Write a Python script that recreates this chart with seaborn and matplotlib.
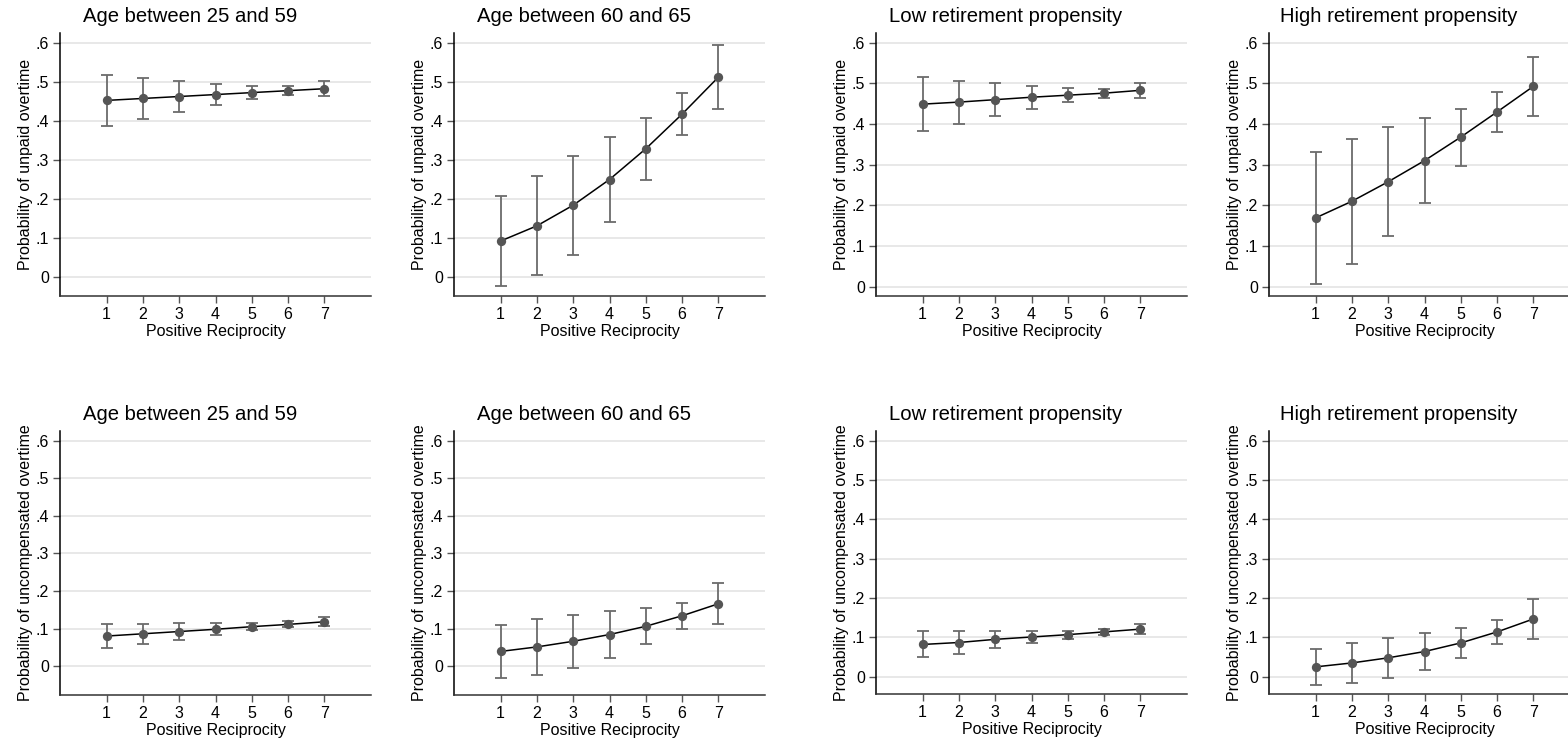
import numpy as np
import pandas as pd
import matplotlib
matplotlib.use("Agg")
import matplotlib.pyplot as plt
import seaborn as sns

# ---------------- data ----------------
reciprocity = [1, 2, 3, 4, 5, 6, 7]
titles = ["Age between 25 and 59", "Age between 60 and 65",
          "Low retirement propensity", "High retirement propensity"]
ylabel_top = "Probability of unpaid overtime"
ylabel_bottom = "Probability of uncompensated overtime"
xlabel = "Positive Reciprocity"
ytick_vals = [0, 0.1, 0.2, 0.3, 0.4, 0.5, 0.6]
ytick_labels = ["0", ".1", ".2", ".3", ".4", ".5", ".6"]

# unpaid overtime (top row)
unpaid_age_young = [0.452, 0.457, 0.462, 0.467, 0.472, 0.477, 0.482]
unpaid_age_young_ci = [0.066, 0.053, 0.040, 0.028, 0.017, 0.011, 0.019]
unpaid_age_old = [0.091, 0.130, 0.183, 0.249, 0.328, 0.417, 0.512]
unpaid_age_old_ci = [0.115, 0.127, 0.127, 0.110, 0.079, 0.055, 0.082]
unpaid_low_ret = [0.449, 0.454, 0.460, 0.466, 0.471, 0.476, 0.483]
unpaid_low_ret_ci = [0.066, 0.053, 0.040, 0.028, 0.017, 0.011, 0.019]
unpaid_high_ret = [0.169, 0.210, 0.258, 0.310, 0.368, 0.430, 0.493]
unpaid_high_ret_ci = [0.163, 0.154, 0.134, 0.105, 0.070, 0.050, 0.072]

# uncompensated overtime (bottom row)
uncomp_age_young = [0.080, 0.086, 0.092, 0.098, 0.105, 0.111, 0.118]
uncomp_age_young_ci = [0.032, 0.027, 0.022, 0.016, 0.010, 0.008, 0.012]
uncomp_age_old = [0.039, 0.051, 0.066, 0.084, 0.106, 0.134, 0.166]
uncomp_age_old_ci = [0.071, 0.074, 0.071, 0.062, 0.048, 0.035, 0.054]
uncomp_low_ret = [0.082, 0.087, 0.095, 0.101, 0.107, 0.114, 0.121]
uncomp_low_ret_ci = [0.033, 0.028, 0.022, 0.016, 0.010, 0.008, 0.012]
uncomp_high_ret = [0.025, 0.035, 0.048, 0.064, 0.086, 0.114, 0.147]
uncomp_high_ret_ci = [0.045, 0.050, 0.051, 0.048, 0.038, 0.030, 0.050]

# ---------------- style ----------------
sns.set_theme(style="white")
plt.rcParams['font.family'] = ['Liberation Sans', 'DejaVu Sans']

W, H = 1568, 743
fig = plt.figure(figsize=(W / 100, H / 100), dpi=100)

panels = [
    # (values, ci, title, ylabel, left_px, top_px, bottom_px, ylim)
    (unpaid_age_young, unpaid_age_young_ci, titles[0], ylabel_top, 60, 33, 296, (-0.05, 0.625)),
    (unpaid_age_old, unpaid_age_old_ci, titles[1], ylabel_top, 454, 33, 296, (-0.05, 0.625)),
    (unpaid_low_ret, unpaid_low_ret_ci, titles[2], ylabel_top, 876, 33, 296, (-0.023, 0.624)),
    (unpaid_high_ret, unpaid_high_ret_ci, titles[3], ylabel_top, 1269, 33, 296, (-0.023, 0.624)),
    (uncomp_age_young, uncomp_age_young_ci, titles[0], ylabel_bottom, 60, 431, 695, (-0.077, 0.626)),
    (uncomp_age_old, uncomp_age_old_ci, titles[1], ylabel_bottom, 454, 431, 695, (-0.077, 0.626)),
    (uncomp_low_ret, uncomp_low_ret_ci, titles[2], ylabel_bottom, 876, 431, 694, (-0.044, 0.625)),
    (uncomp_high_ret, uncomp_high_ret_ci, titles[3], ylabel_bottom, 1269, 431, 694, (-0.044, 0.625)),
]

AX_W = 311
for vals, ci, title, ylab, left, top, bottom, ylim in panels:
    ax = fig.add_axes([left / W, (H - bottom) / H, AX_W / W, (bottom - top) / H])
    df = pd.DataFrame({"x": reciprocity, "y": vals, "ci": ci})
    ax.set_xlim(-0.28, 8.28)
    ax.set_ylim(*ylim)
    ax.set_yticks(ytick_vals)
    ax.set_yticklabels(ytick_labels)
    ax.set_xticks(reciprocity)
    ax.set_xticklabels([str(v) for v in reciprocity])
    ax.grid(axis="y", color="#e6e6e6", linewidth=1.3)
    ax.grid(axis="x", visible=False)
    ax.set_axisbelow(True)

    ax.errorbar(df["x"], df["y"], yerr=df["ci"], fmt="none", ecolor="#6b6b6b",
                elinewidth=1.3, capsize=4, capthick=1.3, zorder=2)
    sns.lineplot(data=df, x="x", y="y", ax=ax, color="black", linewidth=1.1,
                 zorder=3, legend=False)
    sns.scatterplot(data=df, x="x", y="y", ax=ax, color="#555555", s=45,
                    edgecolor="#555555", linewidth=0, zorder=4, legend=False)

    for s in ["top", "right"]:
        ax.spines[s].set_visible(False)
    ax.spines["left"].set_color("black")
    ax.spines["left"].set_linewidth(1.1)
    ax.spines["bottom"].set_color("#333333")
    ax.spines["bottom"].set_linewidth(1.1)
    ax.tick_params(axis="both", which="major", length=5, width=1, color="#555555",
                   labelsize=11.5, labelcolor="black", direction="out", pad=3,
                   bottom=True, left=True)
    ax.set_xlabel(xlabel, fontsize=11.5, color="black")
    ax.set_ylabel(ylab, fontsize=11.5, color="black")
    ax.xaxis.set_label_coords(0.5, -0.105)
    ax.yaxis.set_label_coords(-0.088, 0.5)
    ax.set_title(title, fontsize=14.6, x=0.418, pad=8, color="black", loc="center")

fig.savefig("out.png", dpi=100)
